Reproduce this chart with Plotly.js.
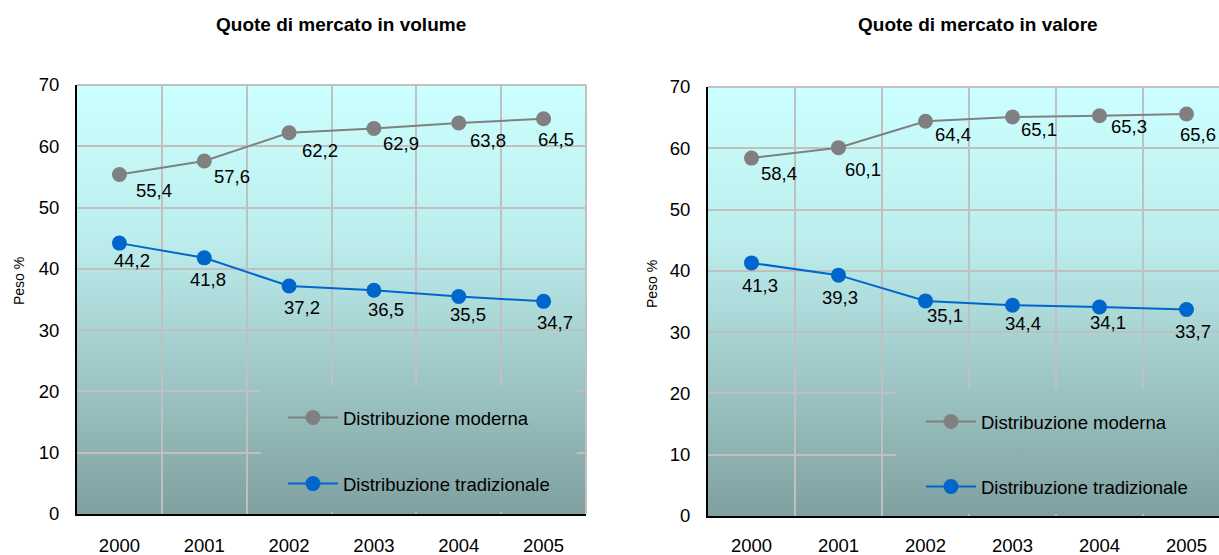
<!DOCTYPE html>
<html>
<head>
<meta charset="utf-8">
<script src="https://cdn.plot.ly/plotly-3.0.1.min.js"></script>
<style>
  html, body { margin: 0; padding: 0; overflow: hidden; background: #ffffff; }
  #chart { width: 1240px; height: 555px; }
</style>
</head>
<body>
<div id="chart"></div>
<script>
// Market shares by distribution channel, 2000-2005
const years = ['2000', '2001', '2002', '2003', '2004', '2005'];
const volumeModerna = [55.4, 57.6, 62.2, 62.9, 63.8, 64.5];
const volumeTradizionale = [44.2, 41.8, 37.2, 36.5, 35.5, 34.7];
const valoreModerna = [58.4, 60.1, 64.4, 65.1, 65.3, 65.6];
const valoreTradizionale = [41.3, 39.3, 35.1, 34.4, 34.1, 33.7];
const yTicks = [0, 10, 20, 30, 40, 50, 60, 70];

const seriesNames = ['Distribuzione moderna', 'Distribuzione tradizionale'];
const panelTitles = ['Quote di mercato in volume', 'Quote di mercato in valore'];
const yTitle = 'Peso %';

// Pixel offsets of each value label from its marker: [dx, dy] (dy downwards)
const offVolModerna = [[35, 16], [28, 16], [31, 18], [27, 15], [29, 17], [12, 21]];
const offVolTrad = [[13, 17], [4, 22], [13, 21], [12, 19], [9, 18], [11, 21]];
const offValModerna = [[27, 15], [24, 22], [27, 13], [26, 12], [29, 11], [11, 21]];
const offValTrad = [[8, 23], [1, 22], [19, 15], [10, 18], [8, 15], [6, 22]];

const FONT = 'Arial, "Liberation Sans", sans-serif';
const GRAY = '#808080';
const BLUE = '#0066cc';
const GRID = '#c0c0c0';
const W = 1240, H = 555;
const TEXT_SIZE = 18.5;

// Plot areas in pixels: [left, right, top, bottom]
const leftBox = [77, 586, 85, 514];
const rightBox = [708, 1230, 87, 516];

// Gradient fill used as plot background (and for the legend area patch)
function gradientSource(x0, y0, x1, y1) {
  const svg = "<svg xmlns='http://www.w3.org/2000/svg' width='1000' height='1000' viewBox='0 0 1000 1000' preserveAspectRatio='none'>" +
    "<defs><linearGradient id='g' x1='0' y1='0' x2='0' y2='1000' gradientUnits='userSpaceOnUse'>" +
    "<stop offset='0' stop-color='#ccffff'/><stop offset='0.35' stop-color='#bdeeee'/>" +
    "<stop offset='1' stop-color='#80a0a0'/></linearGradient></defs>" +
    "<rect x='" + x0 * 1000 + "' y='" + y0 * 1000 + "' width='" + (x1 - x0) * 1000 +
    "' height='" + (y1 - y0) * 1000 + "' fill='url(#g)'/></svg>";
  return 'data:image/svg+xml;charset=utf-8,' + encodeURIComponent(svg);
}

function fmt(v) { return v.toFixed(1).replace('.', ','); }

function lineTrace(y, name, color, xa, ya, legendId, group) {
  return {
    type: 'scatter', mode: 'lines+markers', x: years, y: y, name: name,
    xaxis: xa, yaxis: ya, legend: legendId, legendgroup: group,
    line: { color: color, width: 2 },
    marker: { color: color, size: 15 },
    hoverinfo: 'skip'
  };
}

// Value labels, placed at each category's index on the category axis
function valueLabels(y, offs, xa, ya) {
  return y.map((v, i) => ({
    xref: xa, yref: ya, x: years.indexOf(years[i]), y: v, text: fmt(v), showarrow: false,
    xshift: offs[i][0], yshift: -offs[i][1],
    font: { family: FONT, size: TEXT_SIZE, color: '#000000' }
  }));
}

const traces = [
  lineTrace(volumeModerna, seriesNames[0], GRAY, 'x', 'y', 'legend', 'a'),
  lineTrace(volumeTradizionale, seriesNames[1], BLUE, 'x', 'y', 'legend', 'b'),
  lineTrace(valoreModerna, seriesNames[0], GRAY, 'x2', 'y2', 'legend2', 'c'),
  lineTrace(valoreTradizionale, seriesNames[1], BLUE, 'x2', 'y2', 'legend2', 'd')
];

function xAxis(box, anchor, standoff) {
  return {
    domain: [box[0] / W, box[1] / W], anchor: anchor, type: 'category', range: [-0.5, 5.5],
    tickson: 'boundaries', ticks: '', showgrid: true, gridcolor: GRID, gridwidth: 2,
    showline: true, linecolor: '#000000', linewidth: 2, zeroline: false,
    tickfont: { family: FONT, size: TEXT_SIZE, color: '#000000' }, ticklabelstandoff: standoff,
    fixedrange: true
  };
}
function yAxis(box, anchor) {
  return {
    domain: [(H - box[3]) / H, (H - box[2]) / H], anchor: anchor, range: [0, 70], tickvals: yTicks,
    ticks: '', showgrid: true, gridcolor: GRID, gridwidth: 2,
    showline: true, linecolor: '#000000', linewidth: 2, zeroline: false,
    tickfont: { family: FONT, size: TEXT_SIZE, color: '#000000' }, ticklabelstandoff: 12,
    fixedrange: true
  };
}

// Top and right frame edges of a plot area
function borderShapes(box) {
  const line = { color: GRID, width: 2 };
  const l = box[0] / W, r = box[1] / W, t = (H - box[2]) / H, b = (H - box[3]) / H;
  return [
    { type: 'line', xref: 'paper', yref: 'paper', x0: l, x1: r, y0: t, y1: t, line: line, layer: 'below' },
    { type: 'line', xref: 'paper', yref: 'paper', x0: r, x1: r, y0: b, y1: t, line: line, layer: 'below' }
  ];
}

function panelImages(box, patch) {
  const l = box[0] / W, t = (H - box[2]) / H;
  const sx = (box[1] - box[0]) / W, sy = (box[3] - box[2]) / H;
  const common = { xref: 'paper', yref: 'paper', x: l, y: t, sizex: sx, sizey: sy,
    xanchor: 'left', yanchor: 'top', sizing: 'stretch' };
  return [
    Object.assign({ source: gradientSource(0, 0, 1, 1), layer: 'below' }, common),
    Object.assign({ source: gradientSource(patch[0], patch[1], patch[2], 0.996), layer: 'above' }, common)
  ];
}

function legendBox(x, y, gap) {
  return {
    x: x, y: y, xanchor: 'left', yanchor: 'top', bgcolor: 'rgba(0,0,0,0)', borderwidth: 0,
    traceorder: 'grouped', tracegroupgap: gap, itemwidth: 50,
    font: { family: FONT, size: TEXT_SIZE, color: '#000000' }, itemclick: false, itemdoubleclick: false
  };
}

const titleFont = { family: FONT, size: 19, color: '#000000' };
const yTitleFont = { family: FONT, size: 14, color: '#000000' };
function paperText(x, y, text, font, angle) {
  return { xref: 'paper', yref: 'paper', x: x / W, y: (H - y) / H, xanchor: 'center', yanchor: 'middle',
    text: text, textangle: angle || 0, showarrow: false, font: font };
}

const annotations = [
  paperText(341, 25, '<b>' + panelTitles[0] + '</b>', titleFont),
  paperText(978, 25, '<b>' + panelTitles[1] + '</b>', titleFont),
  paperText(19, 281, yTitle, yTitleFont, -90),
  paperText(652, 284, yTitle, yTitleFont, -90)
].concat(
  valueLabels(volumeModerna, offVolModerna, 'x', 'y'),
  valueLabels(volumeTradizionale, offVolTrad, 'x', 'y'),
  valueLabels(valoreModerna, offValModerna, 'x2', 'y2'),
  valueLabels(valoreTradizionale, offValTrad, 'x2', 'y2')
);

const layout = {
  width: W, height: H,
  margin: { l: 0, r: 0, t: 0, b: 0 },
  paper_bgcolor: '#ffffff', plot_bgcolor: 'rgba(0,0,0,0)',
  font: { family: FONT, color: '#000000' },
  xaxis: xAxis(leftBox, 'y', 14),
  yaxis: yAxis(leftBox, 'x'),
  xaxis2: xAxis(rightBox, 'y2', 12),
  yaxis2: yAxis(rightBox, 'x2'),
  legend: legendBox(283 / W, (H - 399) / H, 39),
  legend2: legendBox(921 / W, (H - 403) / H, 38),
  images: panelImages(leftBox, [0.3615, 0.7, 0.982]).concat(panelImages(rightBox, [0.36, 0.704, 1.0])),
  shapes: borderShapes(leftBox).concat(borderShapes(rightBox)),
  annotations: annotations,
  hovermode: false,
  showlegend: true
};

Plotly.newPlot('chart', traces, layout, { displayModeBar: false, staticPlot: true });
</script>
</body>
</html>
